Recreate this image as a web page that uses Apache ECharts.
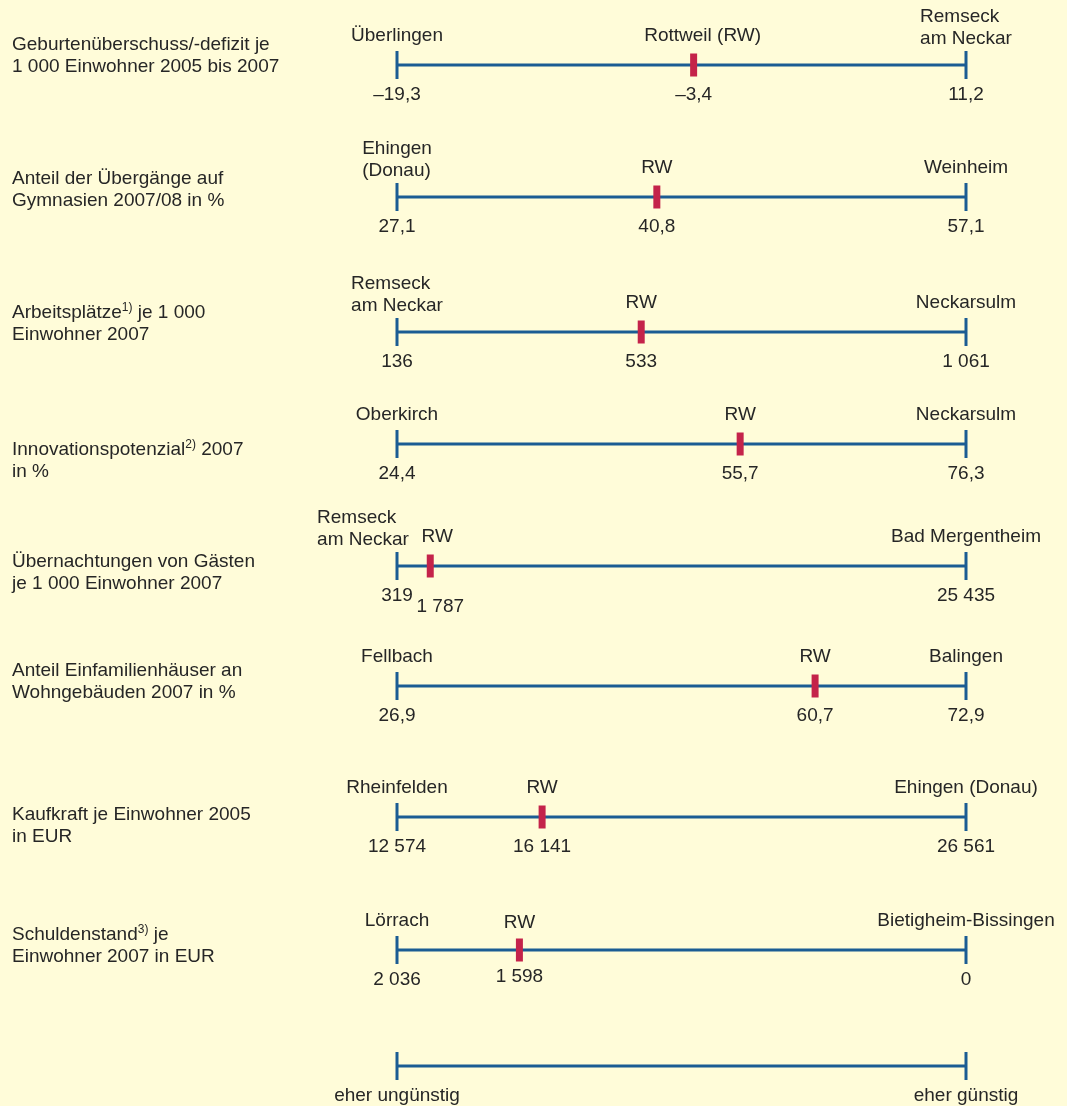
<!DOCTYPE html>
<html>
<head>
<meta charset="utf-8">
<script src="https://cdn.jsdelivr.net/npm/echarts@6/dist/echarts.min.js"></script>
<style>
html,body{margin:0;padding:0;background:#fffcd9;}
#c{width:1067px;height:1106px;}
</style>
</head>
<body>
<div id="c"></div>
<script>
// ---------- DATA ----------
const indicators = [
  'Geburtenüberschuss/-defizit je\n1 000 Einwohner 2005 bis 2007',
  'Anteil der Übergänge auf\nGymnasien 2007/08 in %',
  'Arbeitsplätze{sup|1)} je 1 000\nEinwohner 2007',
  'Innovationspotenzial{sup|2)} 2007\nin %',
  'Übernachtungen von Gästen\nje 1 000 Einwohner 2007',
  'Anteil Einfamilienhäuser an\nWohngebäuden 2007 in %',
  'Kaufkraft je Einwohner 2005\nin EUR',
  'Schuldenstand{sup|3)} je\nEinwohner 2007 in EUR'
];
const leftPlaces = ['Überlingen', 'Ehingen\n(Donau)', 'Remseck\nam Neckar', 'Oberkirch', 'Remseck\nam Neckar', 'Fellbach', 'Rheinfelden', 'Lörrach'];
const rwPlaces = ['Rottweil (RW)', 'RW', 'RW', 'RW', 'RW', 'RW', 'RW', 'RW'];
const rightPlaces = ['Remseck\nam Neckar', 'Weinheim', 'Neckarsulm', 'Neckarsulm', 'Bad Mergentheim', 'Balingen', 'Ehingen (Donau)', 'Bietigheim-Bissingen'];
const leftValues = [-19.3, 27.1, 136, 24.4, 319, 26.9, 12574, 2036];
const rwValues = [-3.4, 40.8, 533, 55.7, 1787, 60.7, 16141, 1598];
const rightValues = [11.2, 57.1, 1061, 76.3, 25435, 72.9, 26561, 0];
const decimals = [1, 1, 0, 1, 0, 1, 0, 0];
const scaleLabels = ['eher ungünstig', 'eher günstig'];

// ---------- LAYOUT / STYLE ----------
const lineY = [65, 197, 332, 444, 566, 686, 817, 950, 1066];
const indicatorOffset = [-9.5, -7, -8.5, 17, 6.5, -4, 8.5, -4];
const GRID_LEFT = 397, GRID_RIGHT = 101;
const BLUE = '#1b5c93', RED = '#c4234a', TEXT = '#262626';
const FONT = '"Liberation Sans", Arial, sans-serif';
const FS = 19, LH = 22;
const overrides = {
  '0-rwname': {dx: 9},
  '4-lname': {dx: -34},
  '4-rwname': {dx: 7},
  '4-rwval': {dx: 10, dy: 41},
  '7-rwname': {dy: -27},
  '7-rwval': {dy: 27}
};

const ctx = document.createElement('canvas').getContext('2d');
ctx.font = FS + 'px ' + FONT;
function blockWidth(t) { return Math.max(...t.split('\n').map(s => ctx.measureText(s).width)); }

function fmt(v, d) {
  const neg = v < 0;
  const s = Math.abs(v).toFixed(d);
  let [i, f] = s.split('.');
  i = i.replace(/\B(?=(\d{3})+(?!\d))/g, ' ');
  return (neg ? '–' : '') + i + (f ? ',' + f : '');
}

function nameLabel(row, slot, text) {
  const o = overrides[row + '-' + slot] || {};
  const lines = text.split('\n').length;
  const dy = o.dy !== undefined ? o.dy : (lines > 1 ? -26 - (lines - 1) * LH / 2 : -29);
  const w = blockWidth(text);
  return {show: true, formatter: text, position: 'inside', align: 'left', verticalAlign: 'middle',
    offset: [-w / 2 + (o.dx || 0), dy], color: TEXT, opacity: 1, fontSize: FS, lineHeight: LH, fontFamily: FONT};
}
function valueLabel(row, slot, text) {
  const o = overrides[row + '-' + slot] || {};
  return {show: true, formatter: text, position: 'inside', align: 'center', verticalAlign: 'middle',
    offset: [o.dx || 0, o.dy !== undefined ? o.dy : 30], color: TEXT, opacity: 1, fontSize: FS, lineHeight: LH, fontFamily: FONT};
}

const grid = [], xAxis = [], yAxis = [], series = [], graphic = [];
const nRows = leftValues.length + 1;
for (let r = 0; r < nRows; r++) {
  const isScale = r === leftValues.length;
  const L = isScale ? 0 : leftValues[r];
  const R = isScale ? 1 : rightValues[r];
  grid.push({left: GRID_LEFT, right: GRID_RIGHT, top: lineY[r] - 20, height: 40});
  xAxis.push({gridIndex: r, type: 'value', min: Math.min(L, R), max: Math.max(L, R), inverse: L > R, show: false});
  yAxis.push({gridIndex: r, type: 'value', min: -1, max: 1, show: false});
  series.push({type: 'line', xAxisIndex: r, yAxisIndex: r, data: [[L, 0], [R, 0]], symbol: 'none',
    lineStyle: {color: BLUE, width: 3}, silent: true, z: 1, animation: false});
  const tickData = isScale
    ? [{value: [L, 0]}, {value: [R, 0]}]
    : [{value: [L, 0], label: nameLabel(r, 'lname', leftPlaces[r])},
       {value: [R, 0], label: nameLabel(r, 'rname', rightPlaces[r])}];
  series.push({type: 'scatter', xAxisIndex: r, yAxisIndex: r, symbol: 'rect', symbolSize: [3, 28],
    itemStyle: {color: BLUE, opacity: 1}, data: tickData, silent: true, z: 2, animation: false});
  const valData = isScale
    ? [{value: [L, 0], label: valueLabel(r, 'lval', scaleLabels[0])}, {value: [R, 0], label: valueLabel(r, 'rval', scaleLabels[1])}]
    : [{value: [L, 0], label: valueLabel(r, 'lval', fmt(L, decimals[r]))},
       {value: [R, 0], label: valueLabel(r, 'rval', fmt(R, decimals[r]))}];
  series.push({type: 'scatter', xAxisIndex: r, yAxisIndex: r, symbol: 'rect', symbolSize: 1,
    itemStyle: {color: BLUE, opacity: 0}, data: valData, silent: true, z: 2, animation: false});
  if (!isScale) {
    const v = rwValues[r];
    series.push({type: 'scatter', xAxisIndex: r, yAxisIndex: r, symbol: 'rect', symbolSize: [7, 23],
      itemStyle: {color: RED, opacity: 1}, data: [{value: [v, 0], label: nameLabel(r, 'rwname', rwPlaces[r])}], silent: true, z: 3, animation: false});
    series.push({type: 'scatter', xAxisIndex: r, yAxisIndex: r, symbol: 'rect', symbolSize: 1,
      itemStyle: {color: RED, opacity: 0}, data: [{value: [v, 0], label: valueLabel(r, 'rwval', fmt(v, decimals[r]))}], silent: true, z: 3, animation: false});
    graphic.push({type: 'text', x: 12, y: lineY[r] + indicatorOffset[r], silent: true,
      style: {text: indicators[r], fill: TEXT, fontSize: FS, fontFamily: FONT, lineHeight: LH, verticalAlign: 'middle', align: 'left',
        rich: {sup: {fontSize: 12, lineHeight: 12, verticalAlign: 'top', fill: TEXT, fontFamily: FONT}}}});
  }
}

const chart = echarts.init(document.getElementById('c'), null, {renderer: 'canvas'});
chart.setOption({backgroundColor: '#fffcd9', animation: false, grid, xAxis, yAxis, series, graphic});
</script>
</body>
</html>
